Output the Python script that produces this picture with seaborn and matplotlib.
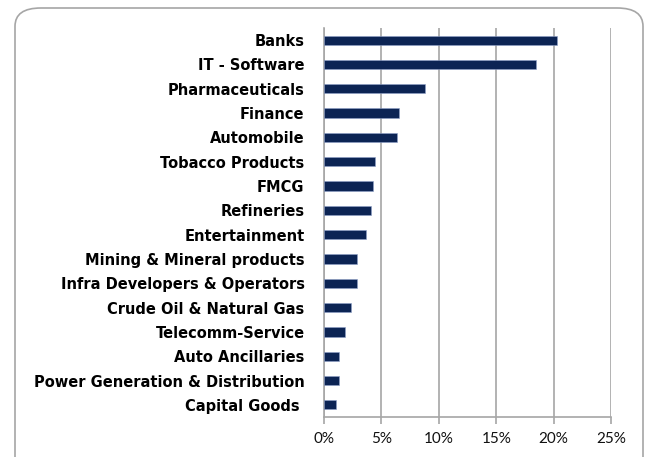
import matplotlib
matplotlib.use("Agg")
import matplotlib.pyplot as plt
import seaborn as sns
import pandas as pd
import numpy as np
from matplotlib.patches import FancyBboxPatch
from matplotlib.ticker import PercentFormatter

sectors = ["Banks", "IT - Software", "Pharmaceuticals", "Finance", "Automobile",
           "Tobacco Products", "FMCG", "Refineries", "Entertainment",
           "Mining & Mineral products", "Infra Developers & Operators",
           "Crude Oil & Natural Gas", "Telecomm-Service", "Auto Ancillaries",
           "Power Generation & Distribution", "Capital Goods "]
weights = [20.3, 18.5, 8.8, 6.55, 6.4, 4.46, 4.3, 4.06, 3.68, 2.9, 2.9,
           2.35, 1.85, 1.33, 1.33, 1.07]
x_ticks = [0, 5, 10, 15, 20, 25]

df = pd.DataFrame({"Sector": sectors, "Weight": weights})

sns.set_style("white")
plt.rcParams['font.family'] = ['Lato', 'DejaVu Sans']

fig = plt.figure(figsize=(6.47, 4.57), dpi=100)
ax = fig.add_axes([0.5008, 0.0875, 0.4436, 0.8512])

# rounded chart frame
frame = FancyBboxPatch((15 / 647, -0.05), 628 / 647, 1 - 8 / 457 + 0.05,
                       boxstyle="round,pad=0,rounding_size=0.04",
                       transform=fig.transFigure, facecolor="none",
                       edgecolor="#a6a6a6", linewidth=1.2, zorder=0)
fig.patches.append(frame)

sns.barplot(x="Weight", y="Sector", data=df, color="#002060", width=0.38,
            ax=ax, zorder=3, edgecolor="#8ea0c8", linewidth=0.4)

ax.set_xlim(0, 25)
ax.set_ylim(len(sectors) - 0.5, -0.5)
ax.set_xticks(x_ticks)
ax.xaxis.set_major_formatter(PercentFormatter(decimals=0))
ax.grid(axis="x", color="#a6a6a6", linewidth=1.2, zorder=0)
ax.grid(axis="y", visible=False)

for s in ["top", "right"]:
    ax.spines[s].set_visible(False)
for s in ["left", "bottom"]:
    ax.spines[s].set_color("#a6a6a6")
    ax.spines[s].set_linewidth(1.2)

# category ticks between bars, Excel style
ax.set_yticks(np.arange(-0.5, len(sectors) + 0.5, 1), minor=True)
ax.tick_params(axis="y", which="major", length=0, pad=14, labelcolor="black")
ax.tick_params(axis="y", which="minor", length=5, color="#a6a6a6", width=1.2)
ax.tick_params(axis="x", which="major", length=5, color="#a6a6a6", width=1.2,
               labelsize=11, direction="out", bottom=True, pad=6,
               labelcolor="#111111")
for lbl in ax.get_yticklabels():
    lbl.set_fontweight("bold")
    lbl.set_fontfamily(["DejaVu Sans"])
    lbl.set_fontsize(10.5)
ax.set_xlabel("")
ax.set_ylabel("")

plt.savefig("out.png", dpi=100)
